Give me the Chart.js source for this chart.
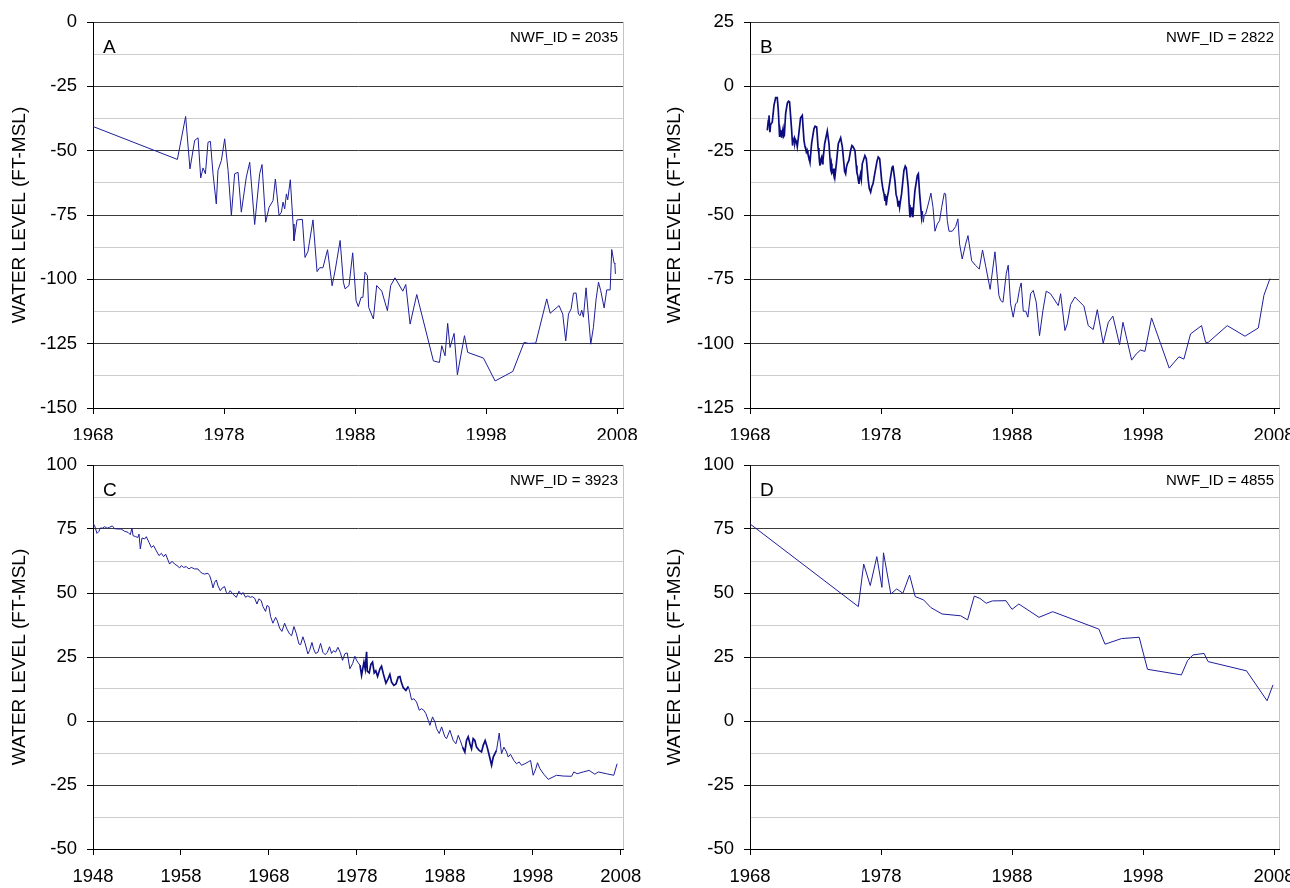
<!DOCTYPE html>
<html><head><meta charset="utf-8">
<script src="https://cdn.jsdelivr.net/npm/chart.js@4.4.1/dist/chart.umd.min.js"></script>
<style>
html,body{margin:0;padding:0;background:#fff;overflow:hidden;width:1290px;height:888px;position:relative;}
canvas{position:absolute;}
</style></head><body>
<canvas id="cA" width="680" height="440" style="left:0;top:0"></canvas>
<canvas id="cB" width="700" height="440" style="left:645px;top:0"></canvas>
<canvas id="cC" width="680" height="448" style="left:0;top:440px"></canvas>
<canvas id="cD" width="700" height="448" style="left:645px;top:440px"></canvas>
<script>
// ---------- DATA ----------
const yAxisTitle = 'WATER LEVEL (FT-MSL)';
const panelLetters = ['A','B','C','D'];
const wellIds = ['NWF_ID = 2035','NWF_ID = 2822','NWF_ID = 3923','NWF_ID = 4855'];
const yearTicks1968 = [1968,1978,1988,1998,2008];
const yearTicks1948 = [1948,1958,1968,1978,1988,1998,2008];

const aYears = [1968.0,1974.44,1975.07,1975.4,1975.76,1976.02,1976.22,1976.4,1976.58,1976.78,1976.96,1977.16,1977.41,1977.54,1977.8,1978.05,1978.31,1978.56,1978.81,1979.07,1979.32,1979.7,1979.96,1980.34,1980.72,1980.9,1981.18,1981.44,1981.74,1981.92,1982.2,1982.38,1982.5,1982.63,1982.76,1982.86,1983.06,1983.27,1983.34,1983.57,1983.98,1984.18,1984.41,1984.79,1985.1,1985.3,1985.55,1985.9,1986.25,1986.5,1986.86,1987.11,1987.24,1987.54,1987.82,1988.08,1988.25,1988.46,1988.6,1988.76,1988.94,1989.04,1989.4,1989.65,1990.04,1990.47,1990.72,1991.05,1991.64,1991.87,1992.2,1992.71,1993.98,1994.44,1994.62,1994.87,1995.07,1995.25,1995.56,1995.81,1996.35,1996.6,1997.8,1998.69,2000.04,2000.9,2001.23,2001.79,2002.63,2002.89,2003.57,2003.85,2004.08,2004.29,2004.49,2004.67,2004.87,2005.05,2005.18,2005.3,2005.43,2005.63,2005.99,2006.19,2006.4,2006.58,2006.75,2007.01,2007.21,2007.47,2007.59,2007.77,2007.83,2007.87];
const aLevels = [-40.6,-53.4,-36.7,-57.1,-46.0,-45.0,-60.6,-56.7,-59.0,-46.7,-46.4,-59.0,-70.7,-57.7,-53.8,-45.4,-57.7,-75.2,-59.0,-58.4,-73.9,-60.3,-54.5,-78.7,-59.0,-55.4,-77.8,-72.0,-69.4,-61.0,-75.2,-73.9,-70.0,-72.6,-66.8,-69.1,-61.3,-78.5,-85.0,-76.9,-76.7,-91.5,-89.1,-76.9,-97.0,-95.5,-95.5,-88.5,-102.5,-96.0,-84.9,-101.1,-103.7,-102.4,-89.7,-108.3,-110.6,-107.0,-107.0,-97.2,-98.5,-110.9,-115.4,-102.4,-104.6,-112.2,-102.4,-99.4,-104.6,-102.0,-117.4,-105.9,-131.7,-132.3,-125.8,-129.7,-117.1,-126.5,-121.0,-137.1,-121.9,-128.4,-130.6,-139.5,-135.8,-124.5,-124.9,-124.8,-107.6,-113.2,-110.2,-113.5,-123.9,-113.5,-111.5,-105.4,-105.3,-113.5,-114.1,-112.0,-114.7,-103.3,-125.2,-118.7,-107.6,-101.1,-104.4,-111.1,-104.1,-104.1,-88.4,-93.7,-94.0,-97.9];

const bYears = [1969.32,1969.4,1969.45,1969.52,1969.57,1969.62,1969.7,1969.83,1969.96,1970.08,1970.16,1970.26,1970.3,1970.34,1970.38,1970.41,1970.46,1970.52,1970.57,1970.62,1970.72,1970.85,1970.94,1971.02,1971.18,1971.25,1971.3,1971.38,1971.43,1971.48,1971.55,1971.61,1971.74,1971.86,1971.99,1972.12,1972.2,1972.25,1972.3,1972.36,1972.42,1972.5,1972.58,1972.7,1972.88,1972.97,1973.09,1973.2,1973.26,1973.3,1973.34,1973.4,1973.47,1973.52,1973.57,1973.7,1973.9,1974.03,1974.15,1974.2,1974.25,1974.33,1974.4,1974.44,1974.49,1974.59,1974.74,1974.92,1975.05,1975.17,1975.22,1975.3,1975.36,1975.43,1975.55,1975.68,1975.78,1975.86,1976.01,1976.11,1976.16,1976.22,1976.27,1976.32,1976.38,1976.44,1976.5,1976.57,1976.77,1976.88,1977.03,1977.1,1977.21,1977.3,1977.39,1977.54,1977.7,1977.79,1977.9,1978.05,1978.15,1978.23,1978.3,1978.35,1978.4,1978.48,1978.56,1978.73,1978.85,1978.91,1979.06,1979.15,1979.24,1979.3,1979.36,1979.42,1979.5,1979.57,1979.75,1979.85,1979.93,1980.08,1980.15,1980.21,1980.26,1980.3,1980.34,1980.4,1980.44,1980.5,1980.59,1980.77,1980.85,1980.95,1981.1,1981.16,1981.23,1981.3,1981.41,1981.61,1981.81,1981.97,1982.12,1982.3,1982.47,1982.63,1982.83,1982.93,1983.06,1983.19,1983.44,1983.7,1983.87,1984.0,1984.2,1984.46,1984.64,1984.92,1985.2,1985.5,1985.75,1986.0,1986.33,1986.7,1987.0,1987.13,1987.31,1987.56,1987.71,1987.89,1988.09,1988.27,1988.4,1988.58,1988.7,1988.86,1989.05,1989.21,1989.42,1989.62,1989.85,1990.1,1990.36,1990.61,1990.94,1991.53,1991.71,1992.04,1992.22,1992.47,1992.8,1993.49,1993.82,1994.2,1994.51,1994.96,1995.35,1995.7,1996.21,1996.47,1997.13,1997.48,1997.81,1998.15,1998.65,2000.0,2000.74,2001.12,2001.63,2002.47,2002.78,2002.98,2004.43,2005.78,2006.8,2007.23,2007.69];
const bLevels = [-17.1,-13.2,-11.3,-17.8,-15.0,-14.5,-13.9,-7.4,-4.4,-4.4,-9.3,-19.7,-17.5,-19.0,-17.1,-20.0,-18.0,-16.5,-19.5,-19.1,-10.6,-6.5,-5.8,-6.1,-17.1,-23.0,-21.0,-20.0,-22.0,-20.8,-21.5,-23.4,-17.8,-12.2,-11.3,-21.0,-23.5,-24.3,-25.5,-24.8,-26.2,-27.5,-29.5,-22.3,-16.5,-15.5,-15.8,-24.0,-26.2,-29.0,-30.8,-28.5,-27.5,-30.0,-28.8,-22.3,-17.4,-22.3,-31.4,-30.0,-33.5,-32.7,-34.5,-32.0,-34.7,-30.1,-22.3,-20.0,-23.6,-30.1,-33.0,-34.0,-31.5,-30.1,-28.8,-24.9,-23.0,-23.4,-24.9,-30.8,-33.5,-34.7,-36.5,-37.9,-35.5,-34.0,-36.0,-30.1,-26.9,-28.2,-36.6,-39.5,-41.1,-39.0,-37.9,-33.4,-29.0,-27.5,-28.2,-36.6,-40.0,-41.8,-44.5,-42.5,-46.3,-43.0,-41.1,-35.3,-31.5,-30.8,-36.6,-42.0,-43.7,-46.5,-44.5,-47.0,-44.0,-41.8,-32.7,-31.0,-31.7,-39.2,-46.0,-50.9,-47.5,-49.5,-47.0,-50.5,-50.2,-46.0,-40.5,-34.7,-34.0,-41.8,-50.9,-48.5,-52.8,-50.0,-49.6,-45.7,-41.5,-47.0,-56.3,-53.5,-52.2,-47.0,-41.5,-41.8,-52.2,-56.3,-56.3,-54.5,-51.5,-61.3,-67.1,-61.3,-58.0,-67.8,-69.5,-71.0,-63.6,-70.1,-78.9,-64.3,-81.2,-83.2,-83.9,-72.8,-69.5,-84.5,-89.7,-84.5,-84.0,-78.6,-76.4,-87.4,-87.4,-89.7,-80.6,-79.3,-83.9,-96.9,-87.1,-79.6,-80.6,-85.2,-80.6,-94.9,-92.3,-84.8,-81.9,-85.4,-93.0,-94.5,-86.8,-99.9,-91.7,-89.3,-100.4,-91.7,-106.4,-104.0,-102.5,-103.0,-90.0,-109.5,-105.1,-106.0,-96.2,-93.0,-99.5,-99.5,-93.0,-97.1,-93.9,-81.2,-74.7];

const cYears = [1948.0,1948.19,1948.45,1948.68,1948.83,1949.06,1949.33,1949.6,1949.89,1950.2,1950.46,1950.84,1951.2,1951.6,1951.98,1952.24,1952.43,1952.55,1952.85,1953.11,1953.23,1953.38,1953.57,1953.87,1954.06,1954.36,1954.63,1954.89,1955.2,1955.5,1955.77,1956.03,1956.26,1956.52,1956.71,1956.98,1957.28,1957.55,1957.85,1958.04,1958.3,1958.6,1958.91,1959.17,1959.55,1959.93,1960.12,1960.42,1960.69,1961.07,1961.26,1961.45,1961.64,1961.83,1962.02,1962.2,1962.47,1962.7,1962.96,1963.15,1963.34,1963.6,1963.9,1964.29,1964.59,1964.86,1965.05,1965.35,1965.6,1965.88,1966.1,1966.37,1966.64,1966.86,1967.13,1967.32,1967.62,1967.77,1968.0,1968.19,1968.45,1968.76,1968.95,1969.21,1969.48,1969.78,1970.05,1970.35,1970.58,1970.84,1971.11,1971.41,1971.6,1971.86,1972.13,1972.43,1972.62,1972.89,1973.08,1973.3,1973.56,1973.87,1974.14,1974.4,1974.63,1974.89,1975.12,1975.35,1975.58,1975.84,1976.11,1976.37,1976.64,1976.9,1977.2,1977.51,1977.77,1977.95,1978.15,1978.35,1978.53,1978.8,1978.95,1979.1,1979.18,1979.4,1979.59,1979.78,1979.97,1980.15,1980.35,1980.62,1980.8,1981.0,1981.3,1981.55,1981.75,1981.94,1982.2,1982.45,1982.7,1982.89,1983.08,1983.27,1983.57,1983.84,1984.02,1984.21,1984.48,1984.78,1985.09,1985.35,1985.6,1985.84,1986.11,1986.3,1986.6,1986.87,1987.06,1987.36,1987.63,1988.0,1988.19,1988.57,1988.95,1989.25,1989.52,1989.75,1990.01,1990.27,1990.46,1990.65,1990.85,1991.03,1991.22,1991.41,1991.6,1991.9,1992.17,1992.36,1992.58,1992.81,1993.04,1993.31,1993.5,1993.87,1994.18,1994.44,1994.71,1995.01,1995.2,1995.46,1995.84,1996.15,1996.45,1996.71,1997.09,1997.47,1997.74,1998.04,1998.34,1998.53,1998.8,1999.25,1999.75,2000.69,2001.45,2002.4,2002.66,2003.04,2003.72,2004.4,2005.05,2005.43,2006.37,2007.2,2007.58];
const cLevels = [77.2,76.3,73.3,74.1,75.4,75.3,75.9,75.3,75.7,76.2,75.1,75.0,75.0,74.1,73.7,72.8,75.4,72.4,72.0,71.7,73.0,67.2,71.5,71.1,72.0,69.8,67.8,68.5,66.5,64.6,65.5,64.2,65.2,62.9,61.3,62.4,61.3,60.7,59.8,60.7,60.0,60.3,59.4,60.0,59.4,59.4,58.5,57.7,57.4,57.7,56.8,54.8,52.0,54.2,55.1,52.9,50.9,52.0,52.5,50.3,49.6,50.9,49.6,48.3,50.7,49.4,50.2,48.3,48.9,48.3,48.6,48.0,45.7,47.7,47.0,44.7,42.8,45.1,44.7,40.8,38.2,40.5,39.2,36.3,35.0,38.2,35.9,34.0,33.3,36.9,34.2,30.1,29.8,32.9,30.1,26.2,27.5,30.7,28.1,26.4,26.8,30.3,26.8,25.9,26.8,29.0,26.4,27.5,26.9,28.8,26.8,23.7,26.3,26.6,20.4,22.4,25.3,23.8,22.7,21.8,17.8,23.0,20.3,27.0,19.5,18.8,22.1,23.0,18.8,19.6,17.4,20.4,21.4,18.5,14.8,16.5,18.2,15.2,13.9,14.5,17.2,17.4,14.8,13.0,12.0,13.5,11.3,8.3,8.7,7.4,4.2,4.8,4.2,2.9,0.3,-1.7,1.6,-0.4,-3.0,-4.9,-2.3,-6.2,-6.9,-3.6,-7.6,-8.9,-5.6,-7.6,-10.2,-12.1,-7.6,-6.2,-8.9,-10.8,-6.9,-7.6,-10.2,-11.5,-12.1,-9.5,-7.6,-10.2,-13.4,-17.3,-14.1,-11.5,-4.7,-12.8,-10.2,-12.1,-14.1,-13.0,-15.4,-16.7,-16.0,-17.3,-16.7,-16.0,-15.4,-21.2,-18.6,-16.3,-18.6,-20.8,-22.8,-21.2,-21.5,-21.6,-19.9,-20.6,-19.9,-19.3,-20.8,-19.9,-20.6,-21.2,-16.7];

const dYears = [1968.0,1976.27,1976.68,1977.18,1977.68,1978.07,1978.19,1978.75,1979.2,1979.67,1980.18,1980.61,1981.25,1981.81,1982.66,1984.08,1984.61,1985.12,1985.55,1986.03,1986.5,1987.54,1988.0,1988.52,1990.06,1991.11,1994.63,1995.1,1996.36,1997.71,1998.34,2000.93,2001.4,2001.81,2002.66,2002.97,2005.9,2007.47,2007.92];
const dLevels = [77.0,44.7,61.3,52.9,64.2,52.2,65.7,49.6,51.6,49.9,57.0,48.6,47.3,44.3,41.8,41.1,39.5,48.8,47.9,46.0,46.9,47.0,43.6,45.7,40.5,42.7,35.9,30.0,32.2,32.7,20.2,18.0,23.6,25.8,26.4,23.2,19.6,7.9,14.1];

// ---------- CHARTS ----------
const FONT = '"Liberation Sans", Arial, sans-serif';
const panels = [
  {id:'cA', xs:aYears, ys:aLevels, xMin:1968, xMax:2008.45, ticks:yearTicks1968, yMin:-150, yMax:0, W:680, H:440, area:{l:93,r:623,t:22,b:408}, titlePad:8.6, dense:[]},
  {id:'cB', xs:bYears, ys:bLevels, xMin:1968, xMax:2008.38, ticks:yearTicks1968, yMin:-125, yMax:25, W:700, H:440, area:{l:105,r:634,t:22,b:408}, titlePad:18.6, dense:[[1969,1981.15]]},
  {id:'cC', xs:cYears, ys:cLevels, xMin:1948, xMax:2008.25, ticks:yearTicks1948, yMin:-50, yMax:100, W:680, H:448, area:{l:93,r:623,t:25,b:409}, titlePad:8.6, dense:[[1978.3,1983.6],[1990.0,1993.6]]},
  {id:'cD', xs:dYears, ys:dLevels, xMin:1968, xMax:2008.38, ticks:yearTicks1968, yMin:-50, yMax:100, W:700, H:448, area:{l:105,r:634,t:25,b:409}, titlePad:18.6, dense:[]}
];

const decor = {
  id:'decor',
  afterDraw(chart, args, opts){
    const c = chart.ctx, a = chart.chartArea;
    c.save();
    c.strokeStyle = '#c4c4c4'; c.lineWidth = 1;
    c.beginPath(); c.moveTo(Math.round(a.right)+0.5, a.top); c.lineTo(Math.round(a.right)+0.5, a.bottom); c.stroke();
    c.fillStyle = '#000';
    c.font = '19px ' + FONT; c.textAlign = 'left'; c.textBaseline = 'alphabetic';
    c.fillText(opts.letter, a.left + 10, a.top + 31);
    c.font = '15px ' + FONT; c.textAlign = 'right';
    c.fillText(opts.nwf, a.right - 5, a.top + 20);
    c.restore();
  }
};

panels.forEach((p, i) => {
  const pts = p.xs.map((x, k) => ({x: x, y: p.ys[k]}));
  const inDense = x => p.dense.some(r => x >= r[0] && x < r[1]);
  new Chart(document.getElementById(p.id), {
    type: 'line',
    data: {datasets: [{data: pts, borderColor: '#1e1e9a', borderWidth: 1, pointRadius: 0, tension: 0, fill: false,
      segment: {
        borderWidth: s => inDense(s.p0.parsed.x) ? 1.7 : 1,
        borderColor: s => inDense(s.p0.parsed.x) ? '#0c0c80' : '#1e1e9a'
      }}]},
    options: {
      responsive: false, animation: false, events: [],
      layout: {padding: {left: 0, top: p.area.t, right: p.W - p.area.r, bottom: 0}},
      plugins: {legend: {display: false}, tooltip: {enabled: false}, decor: {letter: panelLetters[i], nwf: wellIds[i]}},
      scales: {
        x: {
          type: 'linear', min: p.xMin, max: p.xMax,
          afterBuildTicks: s => { s.ticks = p.ticks.map(v => ({value: v})); },
          afterFit: s => { s.height = p.H - p.area.b; },
          grid: {drawOnChartArea: false, drawTicks: true, tickLength: 6, tickColor: '#000'},
          border: {display: true, color: '#000', width: 1},
          ticks: {autoSkip: false, maxRotation: 0, padding: 11, color: '#000', font: {family: FONT, size: 18.5}, callback: v => String(v)}
        },
        y: {
          type: 'linear', min: p.yMin, max: p.yMax,
          afterFit: s => { s.width = p.area.l; },
          grid: {
            drawTicks: true, tickLength: 6,
            color: c => (c.tick && c.tick.value % 25 === 0) ? '#3a3a3a' : '#cdcdcd',
            tickColor: c => (c.tick && c.tick.value % 25 === 0) ? '#000' : 'rgba(0,0,0,0)'
          },
          border: {display: true, color: '#000', width: 1},
          ticks: {stepSize: 12.5, padding: 10, color: '#000', font: {family: FONT, size: 18.5},
                  callback: v => (v % 25 === 0 ? String(v) : '')},
          title: {display: true, text: yAxisTitle, color: '#000', font: {family: FONT, size: 19}, padding: {top: p.titlePad, bottom: 0}}
        }
      }
    },
    plugins: [decor]
  });
});
</script>
</body></html>
